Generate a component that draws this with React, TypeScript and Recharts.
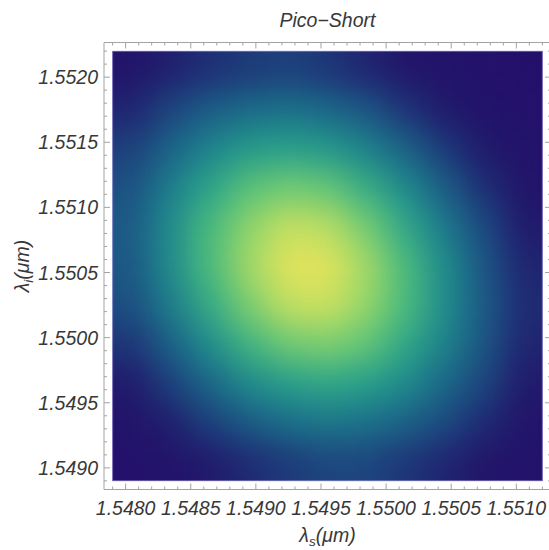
import React from 'react';
import { ComposedChart, Bar, Cell, XAxis, YAxis, ReferenceArea } from 'recharts';

// cell edges of the density grid (signal / idler wavelength, µm)
const xEdges = [1.5479, 1.5482, 1.5485, 1.5488, 1.5491, 1.5494, 1.5497, 1.55, 1.5503, 1.5506, 1.5509, 1.5512];
// top to bottom
const yEdges = [1.5522, 1.5519, 1.5516, 1.5513, 1.551, 1.5507, 1.5504, 1.5501, 1.5498, 1.5495, 1.5492, 1.5489];

// relative intensity, rows top to bottom, columns left to right
const intensity = [
  [0.04, 0.07, 0.10, 0.12, 0.13, 0.11, 0.08, 0.05, 0.03, 0.01, 0.00],
  [0.08, 0.14, 0.21, 0.25, 0.27, 0.24, 0.18, 0.11, 0.06, 0.03, 0.01],
  [0.13, 0.23, 0.34, 0.44, 0.47, 0.43, 0.33, 0.22, 0.12, 0.06, 0.03],
  [0.17, 0.32, 0.49, 0.64, 0.71, 0.67, 0.53, 0.36, 0.21, 0.10, 0.04],
  [0.20, 0.37, 0.59, 0.79, 0.91, 0.88, 0.72, 0.50, 0.30, 0.15, 0.06],
  [0.19, 0.37, 0.60, 0.83, 0.98, 0.98, 0.83, 0.59, 0.36, 0.19, 0.08],
  [0.16, 0.31, 0.52, 0.74, 0.90, 0.92, 0.80, 0.59, 0.37, 0.20, 0.09],
  [0.11, 0.22, 0.38, 0.56, 0.70, 0.74, 0.66, 0.50, 0.33, 0.18, 0.08],
  [0.06, 0.13, 0.24, 0.36, 0.46, 0.50, 0.46, 0.36, 0.24, 0.14, 0.06],
  [0.03, 0.07, 0.13, 0.20, 0.26, 0.29, 0.27, 0.22, 0.15, 0.09, 0.04],
  [0.01, 0.03, 0.06, 0.09, 0.12, 0.14, 0.14, 0.11, 0.08, 0.05, 0.02],
];

const xDomain = [1.547834, 1.551266];
const yDomain = [1.548834, 1.552266];

const xTicks = [
  1.5479, 1.548, 1.5481, 1.5482, 1.5483, 1.5484, 1.5485, 1.5486, 1.5487, 1.5488, 1.5489,
  1.549, 1.5491, 1.5492, 1.5493, 1.5494, 1.5495, 1.5496, 1.5497, 1.5498, 1.5499, 1.55,
  1.5501, 1.5502, 1.5503, 1.5504, 1.5505, 1.5506, 1.5507, 1.5508, 1.5509, 1.551, 1.5511, 1.5512,
];
const yTicks = [
  1.5489, 1.549, 1.5491, 1.5492, 1.5493, 1.5494, 1.5495, 1.5496, 1.5497, 1.5498, 1.5499,
  1.55, 1.5501, 1.5502, 1.5503, 1.5504, 1.5505, 1.5506, 1.5507, 1.5508, 1.5509, 1.551,
  1.5511, 1.5512, 1.5513, 1.5514, 1.5515, 1.5516, 1.5517, 1.5518, 1.5519, 1.552, 1.5521, 1.5522,
];
const xMajorTicks = [1.548, 1.5485, 1.549, 1.5495, 1.55, 1.5505, 1.551];
const yMajorTicks = [1.549, 1.5495, 1.55, 1.5505, 1.551, 1.5515, 1.552];

// blue-green-yellow colour scale
const stopValues = [0, 0.05, 0.1, 0.16, 0.2, 0.26, 0.36, 0.48, 0.62, 0.79, 0.91, 1];
const stopColors = [
  '#23106b', '#22156a', '#1e3075', '#1c4f82', '#1c5a86', '#1b6e8a',
  '#1f8b8c', '#2aa38a', '#52c07a', '#8ed46b', '#c6df60', '#e9e35a',
];

const W = 553;
const H = 550;
const FRAME = '#a3a3a3';
const TEXT = '#383838';
const FONT = '"Liberation Sans", Arial, sans-serif';
const FS = 19.5;

const hexToRgb = (h: string) => [1, 3, 5].map((i) => parseInt(h.slice(i, i + 2), 16));

const colorFor = (v: number) => {
  let i = 0;
  while (i < stopValues.length - 2 && v > stopValues[i + 1]) i++;
  const t = Math.min(1, Math.max(0, (v - stopValues[i]) / (stopValues[i + 1] - stopValues[i])));
  const a = hexToRgb(stopColors[i]);
  const b = hexToRgb(stopColors[i + 1]);
  const c = a.map((ai, k) => Math.round(ai + (b[k] - ai) * t));
  return `rgb(${c[0]},${c[1]},${c[2]})`;
};

const nRows = yEdges.length - 1;

// one entry per grid column; rows are stacked bar segments
const columns = xEdges.slice(0, -1).map((x0, c) => {
  const entry: Record<string, number> = { x: (x0 + xEdges[c + 1]) / 2, base: yEdges[nRows] };
  for (let r = 0; r < nRows; r++) entry[`r${r}`] = yEdges[r] - yEdges[r + 1];
  return entry;
});
const xCenters = columns.map((d) => d.x);
const rowOrder = Array.from({ length: nRows }, (_, k) => nRows - 1 - k); // bottom row first

const isMajor = (v: number, majors: number[]) => majors.some((m) => Math.abs(m - v) < 1e-8);

const BottomTick = ({ x, y, payload }: any) => {
  const major = isMajor(payload.value, xMajorTicks);
  return (
    <g>
      <line x1={x} x2={x} y1={y} y2={y - (major ? 6 : 3)} stroke={FRAME} />
      {major && (
        <text x={x} y={y + 25} textAnchor="middle" fontSize={FS} fontStyle="italic" fontFamily={FONT} fill={TEXT}>
          {payload.value.toFixed(4)}
        </text>
      )}
    </g>
  );
};

const TopTick = ({ x, y, payload }: any) => {
  const major = isMajor(payload.value, xMajorTicks);
  return <line x1={x} x2={x} y1={y} y2={y + (major ? 6 : 3)} stroke={FRAME} />;
};

const LeftTick = ({ x, y, payload }: any) => {
  const major = isMajor(payload.value, yMajorTicks);
  return (
    <g>
      <line x1={x} x2={x + (major ? 6 : 3)} y1={y} y2={y} stroke={FRAME} />
      {major && (
        <text x={x - 6} y={y + 7} textAnchor="end" fontSize={FS} fontStyle="italic" fontFamily={FONT} fill={TEXT}>
          {payload.value.toFixed(4)}
        </text>
      )}
    </g>
  );
};

const RightTick = ({ x, y, payload }: any) => {
  const major = isMajor(payload.value, yMajorTicks);
  return <line x1={x} x2={x - (major ? 6 : 3)} y1={y} y2={y} stroke={FRAME} />;
};

const HeatLayer = () => (
  <ComposedChart
    width={W}
    height={H}
    data={columns}
    margin={{ top: 42.5, right: 2, bottom: 60.5, left: 104 }}
    barCategoryGap={0}
    barGap={0}
  >
    <XAxis type="number" dataKey="x" domain={xDomain} ticks={xCenters} allowDataOverflow hide />
    <YAxis type="number" domain={yDomain} allowDataOverflow hide />
    <Bar dataKey="base" stackId="jsi" fill="none" isAnimationActive={false} />
    {rowOrder.map((r) => (
      <Bar key={r} dataKey={`r${r}`} stackId="jsi" isAnimationActive={false}>
        {columns.map((_, c) => (
          <Cell key={c} fill={colorFor(intensity[r][c])} />
        ))}
      </Bar>
    ))}
  </ComposedChart>
);

const FrameLayer = () => (
  <ComposedChart width={W} height={H} data={columns} margin={{ top: 41.5, right: 0, bottom: 0.5, left: 0 }}>
    <XAxis
      type="number"
      dataKey="x"
      domain={xDomain}
      ticks={xTicks}
      interval={0}
      allowDataOverflow
      height={60}
      tickSize={0}
      tickMargin={0}
      tickLine={false}
      axisLine={{ stroke: FRAME }}
      tick={(p: any) => <BottomTick {...p} />}
    />
    <XAxis
      xAxisId="top"
      orientation="top"
      type="number"
      dataKey="x"
      domain={xDomain}
      ticks={xTicks}
      interval={0}
      allowDataOverflow
      height={1}
      tickSize={0}
      tickMargin={0}
      tickLine={false}
      axisLine={{ stroke: FRAME }}
      tick={(p: any) => <TopTick {...p} />}
    />
    <YAxis
      type="number"
      domain={yDomain}
      ticks={yTicks}
      interval={0}
      allowDataOverflow
      width={104}
      tickSize={0}
      tickMargin={0}
      tickLine={false}
      axisLine={{ stroke: FRAME }}
      tick={(p: any) => <LeftTick {...p} />}
    />
    <YAxis
      yAxisId="right"
      orientation="right"
      type="number"
      domain={yDomain}
      ticks={yTicks}
      interval={0}
      allowDataOverflow
      width={2}
      tickSize={0}
      tickMargin={0}
      tickLine={false}
      axisLine={{ stroke: FRAME }}
      tick={(p: any) => <RightTick {...p} />}
    />
    <ReferenceArea
      x1={xEdges[0]}
      x2={xEdges[xEdges.length - 1]}
      y1={yEdges[nRows]}
      y2={yEdges[0]}
      fill="none"
      stroke="#b9acea"
      strokeOpacity={0.7}
    />
    <text x={327.5} y={27} textAnchor="middle" fontSize={FS} fontStyle="italic" fontFamily={FONT} fill={TEXT}>
      Pico{'\u2212'}Short
    </text>
    <text x={327.5} y={542} textAnchor="middle" fontSize={FS} fontStyle="italic" fontFamily={FONT} fill={TEXT}>
      λ<tspan fontSize={13.5} dy={4}>s</tspan>
      <tspan dy={-4}>(μm)</tspan>
    </text>
    <text
      x={22}
      y={266}
      transform="rotate(-90 22 266)"
      dy={6.5}
      textAnchor="middle"
      fontSize={FS}
      fontStyle="italic"
      fontFamily={FONT}
      fill={TEXT}
    >
      λ<tspan fontSize={13.5} dy={4}>i</tspan>
      <tspan dy={-4}>(μm)</tspan>
    </text>
  </ComposedChart>
);

export default function App() {
  return (
    <div style={{ position: 'absolute', left: 0, top: 0, width: 549, height: 550, overflow: 'hidden', background: '#fff' }}>
      <svg width={0} height={0} style={{ position: 'absolute' }}>
        <defs>
          <filter id="heatSmooth" colorInterpolationFilters="sRGB">
            <feGaussianBlur in="SourceGraphic" stdDeviation={16} result="blur" />
            <feComponentTransfer in="blur" result="solid">
              <feFuncA type="linear" slope={80} intercept={0} />
            </feComponentTransfer>
            <feComponentTransfer in="SourceAlpha" result="mask">
              <feFuncA type="linear" slope={80} intercept={0} />
            </feComponentTransfer>
            <feComposite in="solid" in2="mask" operator="in" />
          </filter>
        </defs>
      </svg>
      <div style={{ position: 'absolute', left: 0, top: 0, filter: 'url(#heatSmooth)' }}>
        <HeatLayer />
      </div>
      <div style={{ position: 'absolute', left: 0, top: 0 }}>
        <FrameLayer />
      </div>
    </div>
  );
}
